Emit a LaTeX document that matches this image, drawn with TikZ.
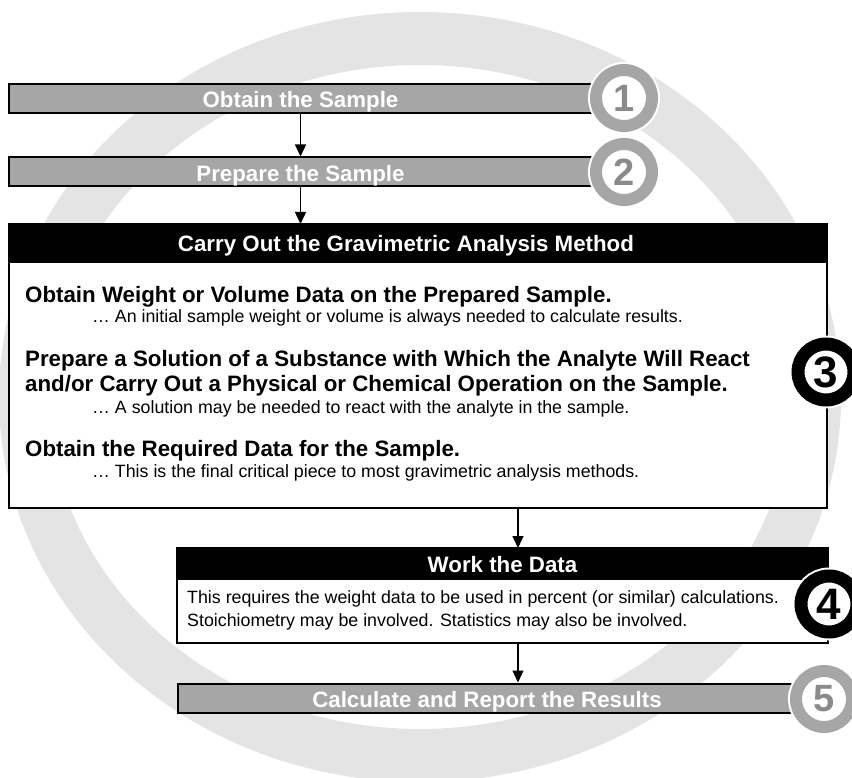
\documentclass[tikz,border=0pt]{standalone}
\usepackage{fontspec}
\setmainfont{Liberation Sans}
\usetikzlibrary{arrows.meta}

\definecolor{ringgray}{HTML}{E4E4E4}
\definecolor{bargray}{HTML}{A6A6A6}
\definecolor{digitgray}{HTML}{8A8A8A}

\newcommand\headfont{\fontsize{22.3}{25}\selectfont\bfseries}
\newcommand\notefont{\fontsize{17.8}{21}\selectfont}
\newcommand\digitfont{\fontsize{38}{38}\selectfont\bfseries}
\newcommand\bigdigitfont{\fontsize{44}{44}\selectfont\bfseries}

\tikzset{
  stepbar/.style={draw=black, line width=2pt, fill=bargray, inner sep=0pt,
    minimum height=29pt, text=white, font=\headfont, text height=19pt, text depth=0pt},
  stepbox/.style={draw=black, line width=2.5pt, fill=white, inner sep=0pt, outer sep=0pt},
  stephead/.style={fill=black, inner sep=0pt, text=white, font=\headfont,
    text height=16pt, text depth=0pt},
  graynum/.style={circle, draw=bargray, line width=12pt, fill=white, minimum size=56pt,
    inner sep=0pt, text=digitgray, font=\digitfont, preaction={draw=white, line width=16pt}},
  blacknum/.style={graynum, draw=black, line width=13pt, text=black, font=\bigdigitfont,
    preaction={draw=white, line width=17pt}},
  item/.style={anchor=base west, inner sep=0pt, font=\headfont},
  note/.style={anchor=base west, inner sep=0pt, font=\notefont},
}

\begin{document}
\begin{tikzpicture}[x=1pt, y=-1pt, >={Triangle[length=12pt, width=11pt]}]
\useasboundingbox (0,0) rectangle (852,778);
\clip (0,0) rectangle (852,778);

% the big ring behind everything
\fill[ringgray, even odd rule] (420,397) ellipse [x radius=421, y radius=385]
  (420,397) ellipse [x radius=371, y radius=332];

% steps 1 and 2
\node[stepbar, minimum width=583pt] (bar1) at (300.5,98.5) {Obtain the Sample};
\node[stepbar, minimum width=583pt] (bar2) at (300.5,172) {Prepare the Sample};

% step 3
\node[stepbox, minimum width=818pt, minimum height=284pt] (box3) at (418,366) {};
\node[stephead, minimum width=818pt, minimum height=39pt, anchor=north] (head3) at (box3.north) {};
\node[stephead] (title3) at ([xshift=-12pt]head3.center) {Carry Out the Gravimetric Analysis Method};
\node[item] (w1) at (25,302) {Obtain Weight or Volume Data on the Prepared Sample.};
\node[note] (n1) at (92,323) {… An initial sample weight or volume is always needed to calculate results.};
\node[item] (w2) at (25,366) {Prepare a Solution of a Substance with Which the Analyte Will React};
\node[item] (w2b) at (25,391) {and/or Carry Out a Physical or Chemical Operation on the Sample.};
\node[note] (n2) at (92,413) {… A solution may be needed to react with the analyte in the sample.};
\node[item] (w3) at (25,456) {Obtain the Required Data for the Sample.};
\node[note] (n3) at (92,477) {… This is the final critical piece to most gravimetric analysis methods.};

% step 4
\node[stepbox, minimum width=651pt, minimum height=95pt] (box4) at (502.5,595.5) {};
\node[stephead, minimum width=651pt, minimum height=32pt, anchor=north] (head4) at (box4.north)
  {Work the Data};
\node[note] (d1) at (187,603) {This requires the weight data to be used in percent (or similar) calculations.};
\node[note] (d2) at (187,626) {Stoichiometry may be involved. Statistics may also be involved.};

% step 5
\node[stepbar, minimum width=618pt] (bar5) at (487,698) {Calculate and Report the Results};

% arrows
\coordinate (mid) at (518,508);
\draw[->, line width=1.3pt] (bar1.south) -- (bar2.north);
\draw[->, line width=1.3pt] (bar2.south) -- (bar2.south |- box3.north);
\draw[->, line width=1.3pt] (box3.south -| mid) -- (box4.north -| mid);
\draw[->, line width=1.3pt] (box4.south -| mid) -- (bar5.north -| mid);

% numbered circles
\node[graynum] (c1) at (624,98) {1};
\node[graynum] (c2) at (624,172) {2};
\node[blacknum] (c3) at (826,372) {3};
\node[blacknum] (c4) at (829,604) {4};
\node[graynum] (c5) at (824,699) {5};
\end{tikzpicture}
\end{document}
